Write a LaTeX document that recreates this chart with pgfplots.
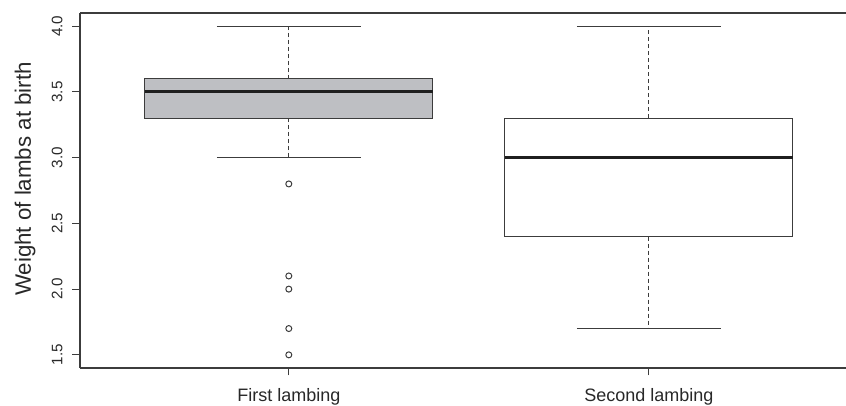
\documentclass[border=0pt]{standalone}
\usepackage{fontspec}
\setmainfont{Liberation Sans}
\usepackage{pgfplots}
\pgfplotsset{compat=1.18}
\usepgfplotslibrary{statistics}
\definecolor{boxfill}{RGB}{190,191,195}
\definecolor{linec}{RGB}{60,60,60}
\definecolor{textc}{RGB}{40,40,40}
\begin{document}
\begin{tikzpicture}
\begin{axis}[
  scale only axis,
  width=383pt, height=177.5pt,
  xmin=0.42, xmax=2.5478,
  ymin=1.4, ymax=4.1,
  axis x line=box, axis y line=left,
  y axis line style={-},
  axis line style={draw=linec, line width=0.6pt},
  tick align=outside,
  xtick pos=left, ytick pos=left,
  major tick length=3.75pt,
  tick style={draw=linec, line width=0.6pt},
  xtick={1,2}, xticklabels={First lambing, Second lambing},
  ytick={1.5,2,2.5,3,3.5,4},
  yticklabels={1.5,2.0,2.5,3.0,3.5,4.0},
  xticklabel style={font=\fontsize{9}{10}\selectfont, text=textc, anchor=north},
  xticklabel shift=3pt,
  yticklabel style={font=\fontsize{7.6}{8}\selectfont, text=textc, rotate=90, anchor=base},
  yticklabel shift=5pt,
  ylabel={Weight of lambs at birth},
  ylabel style={font=\fontsize{11.15}{13}\selectfont, text=textc, at={([xshift=-27.5pt,yshift=5.75pt]rel axis cs:0,0.5)}, anchor=center, rotate=0},
  boxplot/draw direction=y,
  boxplot/draw/whisker/.code 2 args={%
    \draw[/pgfplots/boxplot/every whisker/.try, dash pattern=on 2pt off 1.5pt] (boxplot cs:#1) -- (boxplot cs:#2);
    \draw[/pgfplots/boxplot/every whisker/.try] (boxplot whisker cs:#2,0) -- (boxplot whisker cs:#2,1);
  },
  boxplot/every median/.style={draw=black!88, line width=1.5pt},
]
\addplot[boxplot prepared={lower whisker=3.0, lower quartile=3.3, median=3.5, upper quartile=3.6, upper whisker=4.0, draw position=1, box extend=0.8, whisker extend=0.4},
  draw=linec, fill=boxfill, line width=0.6pt, mark=o, mark size=1.5pt, mark options={solid, draw=linec, line width=0.5pt}]
  coordinates {(1,2.8) (1,2.1) (1,2.0) (1,1.7) (1,1.5)};
\addplot[boxplot prepared={lower whisker=1.7, lower quartile=2.4, median=3.0, upper quartile=3.3, upper whisker=4.0, draw position=2, box extend=0.8, whisker extend=0.4},
  draw=linec, fill=white, line width=0.6pt, mark=o, mark size=1.5pt]
  coordinates {};
\coordinate (SW) at (rel axis cs:0,0);
\coordinate (NE) at (rel axis cs:1,1);
\end{axis}
\pgfresetboundingbox
\useasboundingbox ([xshift=-40pt,yshift=-19pt]SW) rectangle ([yshift=6.5pt]NE);
\end{tikzpicture}
\end{document}
